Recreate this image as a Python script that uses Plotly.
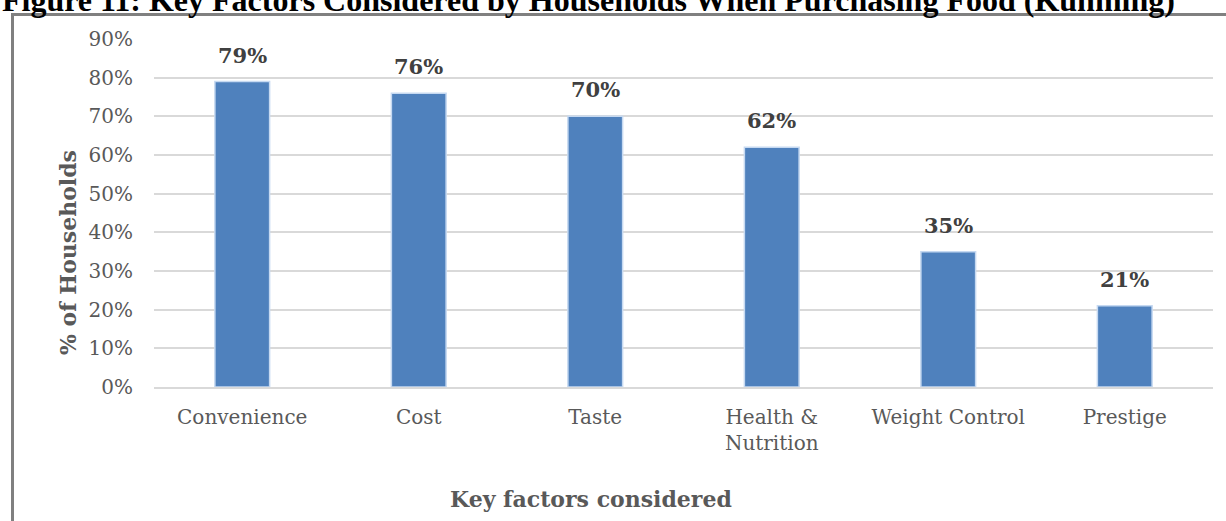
import plotly.graph_objects as go

categories = ["Convenience", "Cost", "Taste", "Health &<br>Nutrition", "Weight Control", "Prestige"]
values = [79, 76, 70, 62, 35, 21]
y_ticks = [0, 10, 20, 30, 40, 50, 60, 70, 80, 90]
y_tick_labels = [f"{t}%" for t in y_ticks]

W, H = 1226, 521
L, R, T, B = 154, 13, 39, 134
plot_w = W - L - R
plot_h = H - T - B

def px_to_paper_x(px):
    return (px - L) / plot_w

def px_to_paper_y(py):
    return (H - B - py) / plot_h

serif = "DejaVu Serif"

fig = go.Figure()
fig.add_trace(go.Bar(
    x=categories,
    y=values,
    width=0.31,
    marker=dict(color="#4F81BD", line=dict(color="#C6D9F1", width=1.5)),
    hoverinfo="skip",
))

# value labels above each bar
for c, v in zip(categories, values):
    fig.add_annotation(
        x=c, y=v, xref="x", yref="y",
        text=f"<b>{v}%</b>", showarrow=False,
        yanchor="bottom", yshift=12,
        font=dict(family=serif, size=21, color="#404040"),
    )

# heading (partly cut at the top edge)
fig.add_annotation(
    x=px_to_paper_x(0), y=px_to_paper_y(20), xref="paper", yref="paper",
    xanchor="left", yanchor="bottom", showarrow=False,
    text="<b>Figure 11: Key Factors Considered by Households When Purchasing Food (Kunming)</b>",
    font=dict(family="Liberation Serif", size=32, color="#000000"),
)

# axis titles
fig.add_annotation(
    x=px_to_paper_x(53), y=px_to_paper_y(253), xref="paper", yref="paper",
    showarrow=False, textangle=-90,
    text="<b>% of Households</b>",
    font=dict(family=serif, size=22, color="#595959"),
)
fig.add_annotation(
    x=px_to_paper_x(591), y=px_to_paper_y(499), xref="paper", yref="paper",
    yanchor="middle", showarrow=False,
    text="<b>Key factors considered</b>",
    font=dict(family=serif, size=22, color="#595959"),
)

# frame lines (left and top)
fig.add_shape(type="line", xref="paper", yref="paper",
              x0=px_to_paper_x(12.5), x1=px_to_paper_x(12.5),
              y0=px_to_paper_y(13), y1=px_to_paper_y(H + 5),
              line=dict(color="#808080", width=3))
fig.add_shape(type="line", xref="paper", yref="paper",
              x0=px_to_paper_x(11), x1=px_to_paper_x(W + 5),
              y0=px_to_paper_y(14.5), y1=px_to_paper_y(14.5),
              line=dict(color="#808080", width=3))

fig.update_layout(
    width=W, height=H,
    margin=dict(l=L, r=R, t=T, b=B),
    paper_bgcolor="white", plot_bgcolor="white",
    showlegend=False,
    font=dict(family=serif, size=20, color="#595959"),
)
fig.update_xaxes(
    showgrid=False, showline=True, linecolor="#D9D9D9", linewidth=1.5,
    ticks="outside", ticklen=11, tickcolor="rgba(0,0,0,0)",
    tickfont=dict(family=serif, size=20, color="#595959"),
)
fig.update_yaxes(
    range=[0, 90], tickvals=y_ticks, ticktext=y_tick_labels,
    showgrid=True, gridcolor="#D9D9D9", gridwidth=1.5, zeroline=False,
    showline=False,
    ticks="outside", ticklen=16, tickcolor="rgba(0,0,0,0)",
    tickfont=dict(family=serif, size=20, color="#595959"),
)

fig.write_html("out.html")
